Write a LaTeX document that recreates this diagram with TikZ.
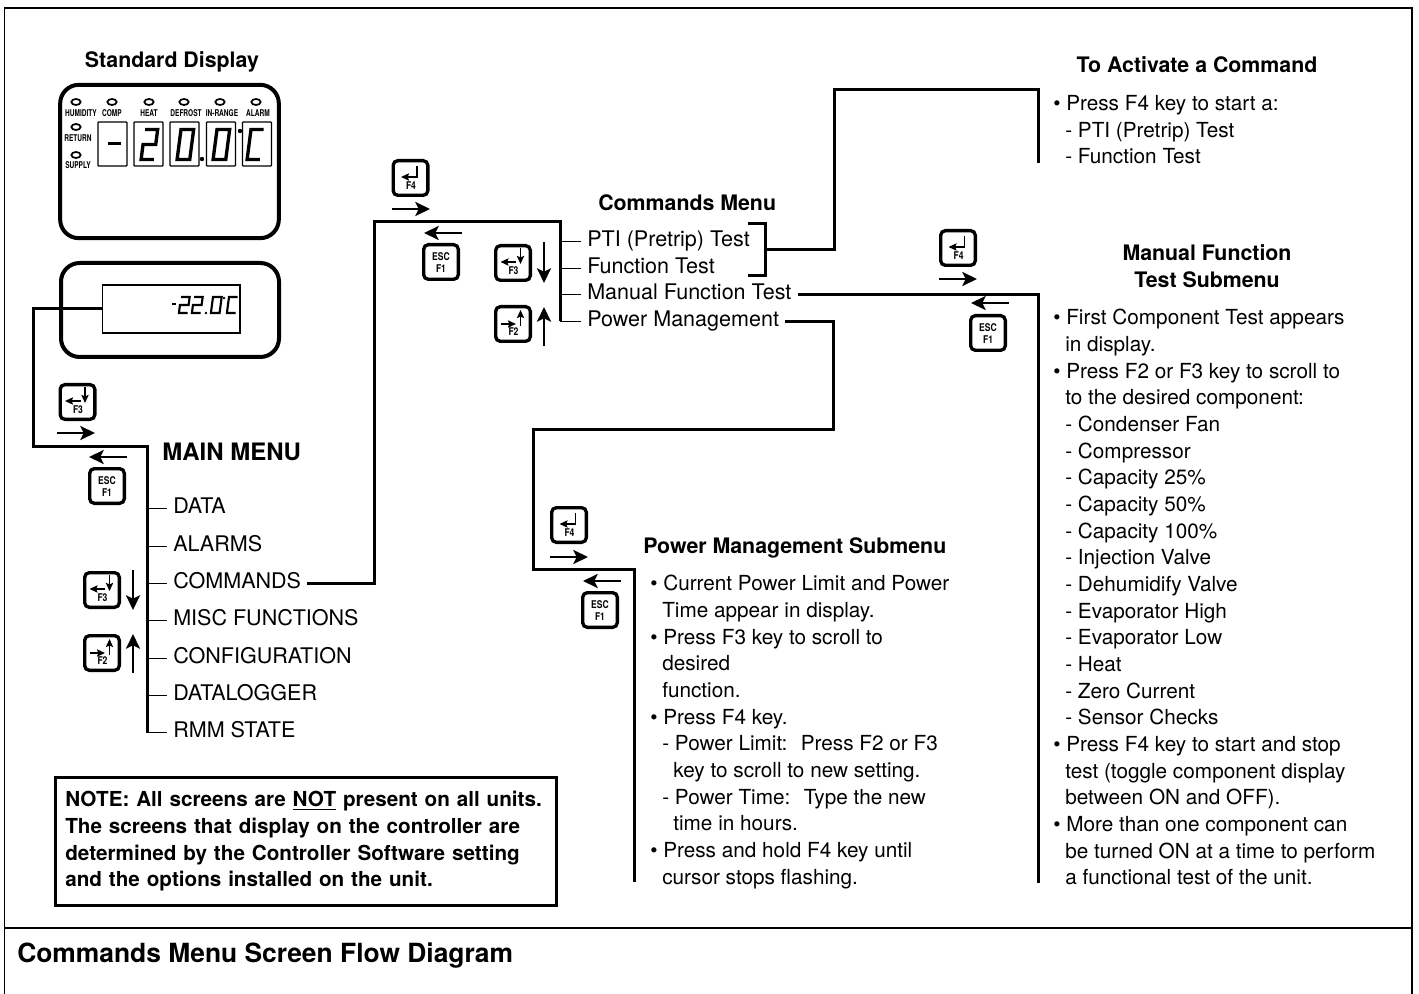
\documentclass[tikz,border=0pt]{standalone}
\usepackage{fontspec}
\setmainfont{TeX Gyre Heros}
\usetikzlibrary{arrows.meta,shapes.geometric}
\newcommand{\IndA}{\hspace*{9pt}}
\newcommand{\IndB}{\hspace*{17.3pt}}
\newcommand{\Bul}{\textbullet\ }
\begin{document}
\begin{tikzpicture}
[
x=0.75pt,y=-0.75pt,
FrameLine/.style={draw=black, line width=1.1pt},
Divider/.style={draw=black, line width=2pt},
Trunk/.style={draw=black, line width=2.25pt, line join=miter},
Tick/.style={draw=black, line width=1.1pt},
Title/.style={inner sep=0pt, font=\fontsize{16}{20}\selectfont\bfseries},
BodyText/.style={anchor=north west, align=left, inner sep=0pt, font=\fontsize{15.55}{20}\selectfont},
MenuItem/.style={anchor=west, inner ysep=0pt, inner xsep=4.5pt, text height=11pt, text depth=3pt, font=\fontsize{16.15}{20}\selectfont},
NoteBox/.style={draw=black, line width=2pt, minimum width=376pt, minimum height=96pt, inner xsep=7.5pt, text width=361pt, align=left, font=\fontsize{15.5}{20.02}\selectfont\bfseries},
DisplayBody/.style={draw=black, line width=3pt, rounded corners=14pt},
DigitBox/.style={draw=black, line width=0.9pt, rounded corners=0.6pt, minimum width=21.75pt, minimum height=33pt},
LcdBox/.style={draw=black, line width=1pt, minimum width=103pt, minimum height=36pt},
Led/.style={ellipse, draw=black, line width=1.3pt, minimum width=7pt, minimum height=4.5pt, inner sep=0pt},
LedText/.style={inner sep=0pt, font=\fontsize{7}{8}\selectfont\bfseries},
Segment/.style={draw=black, line width=2.5pt},
BigDigit/.style={x=9.5pt, y=-22.5pt, xslant=0.13},
SmallDigit/.style={x=6.5pt, y=-12pt, xslant=0.13, Segment/.style={draw=black, line width=1.6pt}},
DigitTwo/.pic={\draw[Segment] (0,0)--(1,0)--(1,0.5)--(0,0.5)--(0,1)--(1,1);},
DigitZero/.pic={\draw[Segment] (0,0)--(1,0)--(1,1)--(0,1)--cycle;},
DigitC/.pic={\draw[Segment] (1,0)--(0,0)--(0,1)--(1,1);},
KeyBox/.style={draw=black, line width=2.5pt, rounded corners=3.5pt, minimum size=26pt, inner sep=0pt},
KeyText/.style={inner sep=0pt, font=\fontsize{8}{9}\selectfont\bfseries},
KeyArrow/.style={-{Stealth[length=6pt,width=5.4pt,inset=1pt]}, draw=black, line width=1.4pt},
FlowArrow/.style={-{Stealth[length=11pt,width=10.5pt,inset=2.5pt]}, draw=black, line width=1.6pt},
KeyFthree/.pic={
  \node[KeyBox] (-box) at (0,0) {};
  \draw[KeyArrow] (3,-1)--(-12.5,-1);
  \draw[KeyArrow] (7.5,-15)--(7.5,1);
  \node[KeyText] (-label) at (0.5,8) {\scalebox{0.8}[1]{F3}};
},
KeyFtwo/.pic={
  \node[KeyBox] (-box) at (0,0) {};
  \draw[KeyArrow] (-12.5,0)--(3,0);
  \draw[KeyArrow] (7.5,2)--(7.5,-14);
  \node[KeyText] (-label) at (0.5,8) {\scalebox{0.8}[1]{F2}};
},
KeyFfour/.pic={
  \node[KeyBox] (-box) at (0,0) {};
  \draw[KeyArrow] (6.5,-12)--(6.5,-1)--(-9.5,-1);
  \node[KeyText] (-label) at (0.5,8) {\scalebox{0.8}[1]{F4}};
},
KeyEsc/.pic={
  \node[KeyBox] (-box) at (0,0) {};
  \node[KeyText] (-upper) at (0,-5) {\scalebox{0.8}[1]{ESC}};
  \node[KeyText] (-lower) at (0,6.5) {\scalebox{0.8}[1]{F1}};
},
]

\useasboundingbox (0,0) rectangle (1419,994);

\draw[FrameLine] (4.5,994)--(4.5,8)--(1412,8)--(1412,994);
\draw[Divider] (4.5,928)--(1412,928);
\node[Title, anchor=base west, font=\fontsize{19.8}{24}\selectfont\bfseries] (caption) at (17,962) {Commands Menu Screen Flow Diagram};

% standard display
\node[Title] (stdTitle) at (172,62) {Standard Display};
\node[DisplayBody, minimum width=164pt, minimum height=115pt] (stdBody) at (169.5,161.5) {};

\node[Led] (ledHum) at (76,102) {};
\node[Led] (ledComp) at (112,102) {};
\node[Led] (ledHeat) at (149,102) {};
\node[Led] (ledDef) at (184,102) {};
\node[Led] (ledRange) at (220,102) {};
\node[Led] (ledAlarm) at (256,102) {};
\node[Led] (ledRet) at (76,127) {};
\node[Led] (ledSup) at (76,155) {};

\node[LedText] (txtHum) at (81,113) {\scalebox{0.7}[1]{HUMIDITY}};
\node[LedText] (txtComp) at (112,113) {\scalebox{0.7}[1]{COMP}};
\node[LedText] (txtHeat) at (149,113) {\scalebox{0.7}[1]{HEAT}};
\node[LedText] (txtDef) at (186,113) {\scalebox{0.7}[1]{DEFROST}};
\node[LedText] (txtRange) at (222,113) {\scalebox{0.7}[1]{IN-RANGE}};
\node[LedText] (txtAlarm) at (258,113) {\scalebox{0.7}[1]{ALARM}};
\node[LedText] (txtRet) at (78,138) {\scalebox{0.7}[1]{RETURN}};
\node[LedText] (txtSup) at (78,165) {\scalebox{0.7}[1]{SUPPLY}};

\node[DigitBox] (boxMinus) at (112.5,144) {};
\node[DigitBox] (boxTwo) at (148.5,144) {};
\node[DigitBox] (boxZero) at (184.5,144) {};
\node[DigitBox] (boxTenth) at (221,144) {};
\node[DigitBox] (boxUnit) at (257,144) {};

\draw[Segment, line width=2.4pt] (108,143.5)--(121,143.5);
\path (145,129.5) pic[BigDigit] {DigitTwo};
\path (181,129.5) pic[BigDigit] {DigitZero};
\path (217,129.5) pic[BigDigit] {DigitZero};
\path (251,129.5) pic[BigDigit] {DigitC};
\fill (202,159) circle (2.2);
\fill (240,131) circle (2.2);

% second display
\node[DisplayBody, minimum width=163.5pt, minimum height=70.5pt] (lcdBody) at (170,310) {};
\node[LcdBox] (lcd) at (171.25,309) {};
\draw[Segment, line width=1.6pt] (172,304)--(176,304);
\path (181,297) pic[SmallDigit] {DigitTwo};
\path (194,297) pic[SmallDigit] {DigitTwo};
\path (213,297) pic[SmallDigit] {DigitZero};
\path (229,297) pic[SmallDigit] {DigitC};
\fill (206,313) circle (1.4);
\fill (224,298) circle (1.4);

% main menu
\node[Title, anchor=west, font=\fontsize{18}{22}\selectfont\bfseries] (mainTitle) at (162,452) {MAIN MENU};
\node[MenuItem] (data) at (167,508.5) {DATA};
\node[MenuItem] (alarms) at (167,546.5) {ALARMS};
\node[MenuItem] (commands) at (167,583.5) {COMMANDS};
\node[MenuItem] (misc) at (167,620.5) {MISC FUNCTIONS};
\node[MenuItem] (config) at (167,658.5) {CONFIGURATION};
\node[MenuItem] (logger) at (167,695.5) {DATALOGGER};
\node[MenuItem] (rmm) at (167,732.5) {RMM STATE};

\coordinate (lcdTurn) at (33,446);
\coordinate (mainTop) at (147,446);
\draw[Trunk] (lcd.west) -| (lcdTurn) -- (mainTop) -- (mainTop |- rmm.west);
\draw[Tick] (mainTop |- data.west) -- (data.west);
\draw[Tick] (mainTop |- alarms.west) -- (alarms.west);
\draw[Tick] (mainTop |- commands.west) -- (commands.west);
\draw[Tick] (mainTop |- misc.west) -- (misc.west);
\draw[Tick] (mainTop |- config.west) -- (config.west);
\draw[Tick] (mainTop |- logger.west) -- (logger.west);
\draw[Tick] (mainTop |- rmm.west) -- (rmm.west);

\pic (keyLcd) at (77.5,402) {KeyFthree};
\pic (keyMainEsc) at (107,486) {KeyEsc};
\pic (keyMainDown) at (102,590) {KeyFthree};
\pic (keyMainUp) at (102,653) {KeyFtwo};
\draw[FlowArrow] ([shift={(-20.5,31)}]keyLcd-box.center) -- ++(38,0);
\draw[FlowArrow] ([shift={(20,-29)}]keyMainEsc-box.center) -- ++(-38,0);
\draw[FlowArrow] ([shift={(31,-20)}]keyMainDown-box.center) -- ++(0,40);
\draw[FlowArrow] ([shift={(31,20)}]keyMainUp-box.center) -- ++(0,-39);

% commands menu
\node[Title, anchor=west] (cmdTitle) at (598,203) {Commands Menu};
\node[MenuItem] (pti) at (581,241.5) {PTI (Pretrip) Test};
\node[MenuItem] (function) at (581,268.5) {Function Test};
\node[MenuItem] (manual) at (581,294.5) {Manual Function Test};
\node[MenuItem] (power) at (581,321.5) {Power Management};

\coordinate (cmdLeft) at (374,222);
\coordinate (cmdTop) at (560,222);
\draw[Trunk] (commands.east) -| (cmdLeft) -- (cmdTop) -- (cmdTop |- power.west);
\draw[Tick] (cmdTop |- pti.west) -- (pti.west);
\draw[Tick] (cmdTop |- function.west) -- (function.west);
\draw[Tick] (cmdTop |- manual.west) -- (manual.west);
\draw[Tick] (cmdTop |- power.west) -- (power.west);

\pic (keyCmdEnter) at (410.5,178) {KeyFfour};
\pic (keyCmdEsc) at (441,262) {KeyEsc};
\pic (keyCmdDown) at (513,263) {KeyFthree};
\pic (keyCmdUp) at (513,324) {KeyFtwo};
\draw[FlowArrow] ([shift={(-18.5,31)}]keyCmdEnter-box.center) -- ++(38,0);
\draw[FlowArrow] ([shift={(21,-29)}]keyCmdEsc-box.center) -- ++(-38,0);
\draw[FlowArrow] ([shift={(31,-21)}]keyCmdDown-box.center) -- ++(0,41);
\draw[FlowArrow] ([shift={(31,22)}]keyCmdUp-box.center) -- ++(0,-39);

% bracket to the activate text
\coordinate (brTop) at (765,224);
\coordinate (brBot) at (765,276);
\coordinate (brMid) at (765,250);
\coordinate (actCorner) at (834,90);
\coordinate (actEnd) at (1038,163);
\draw[Trunk] (748,224) -- (brTop) -- (brBot) -- (748,276);
\draw[Trunk] (brMid) -| (actCorner) -| (actEnd);
\node[Title] (actTitle) at (1197,65) {To Activate a Command};
\node[BodyText] (actText) at (1053,95) {\Bul Press F4 key to start a:\\
\IndA- PTI (Pretrip) Test\\
\IndA- Function Test};

% manual function test
\coordinate (manEnd) at (1038,883);
\draw[Trunk] (manual.east) -| (manEnd);
\pic (keyManEnter) at (958,248) {KeyFfour};
\pic (keyManEsc) at (988,333) {KeyEsc};
\draw[FlowArrow] ([shift={(-19,31)}]keyManEnter-box.center) -- ++(38,0);
\draw[FlowArrow] ([shift={(21,-30)}]keyManEsc-box.center) -- ++(-38,0);
\node[Title, align=center, font=\fontsize{16}{20.02}\selectfont\bfseries] (manTitle) at (1207,266) {Manual Function\\Test Submenu};
\node[BodyText] (manText) at (1053,309) {\Bul First Component Test appears\\
\IndA in display.\\
\Bul Press F2 or F3 key to scroll to\\
\IndA to the desired component:\\
\IndA- Condenser Fan\\
\IndA- Compressor\\
\IndA- Capacity 25\%\\
\IndA- Capacity 50\%\\
\IndA- Capacity 100\%\\
\IndA- Injection Valve\\
\IndA- Dehumidify Valve\\
\IndA- Evaporator High\\
\IndA- Evaporator Low\\
\IndA- Heat\\
\IndA- Zero Current\\
\IndA- Sensor Checks\\
\Bul Press F4 key to start and stop\\
\IndA test (toggle component display\\
\IndA between ON and OFF).\\
\Bul More than one component can\\
\IndA be turned ON at a time to perform\\
\IndA a functional test of the unit.};

% power management
\coordinate (pwrRight) at (833,429);
\coordinate (pwrLeft) at (533,429);
\coordinate (pwrLow) at (634,569);
\coordinate (pwrEnd) at (634,882);
\draw[Trunk] (power.east) -| (pwrRight) -- (pwrLeft) |- (pwrLow) -- (pwrEnd);
\pic (keyPwrEnter) at (569,525) {KeyFfour};
\pic (keyPwrEsc) at (600,610) {KeyEsc};
\draw[FlowArrow] ([shift={(-19,32)}]keyPwrEnter-box.center) -- ++(38,0);
\draw[FlowArrow] ([shift={(21,-29)}]keyPwrEsc-box.center) -- ++(-38,0);
\node[Title, anchor=west] (pwrTitle) at (643,548) {Power Management Submenu};
\node[BodyText] (pwrText) at (650,575) {\Bul Current Power Limit and Power\\
\IndA Time appear in display.\\
\Bul Press F3 key to scroll to\\
\IndA desired\\
\IndA function.\\
\Bul Press F4 key.\\
\IndA- Power Limit:~ Press F2 or F3\\
\IndB key to scroll to new setting.\\
\IndA- Power Time:~ Type the new\\
\IndB time in hours.\\
\Bul Press and hold F4 key until\\
\IndA cursor stops flashing.};

% note
\node[NoteBox] (note) at (306,841.5) {NOTE: All screens are \underline{NOT} present on all units.\\
The screens that display on the controller are\\
determined by the Controller Software setting\\
and the options installed on the unit.};

\end{tikzpicture}
\end{document}
